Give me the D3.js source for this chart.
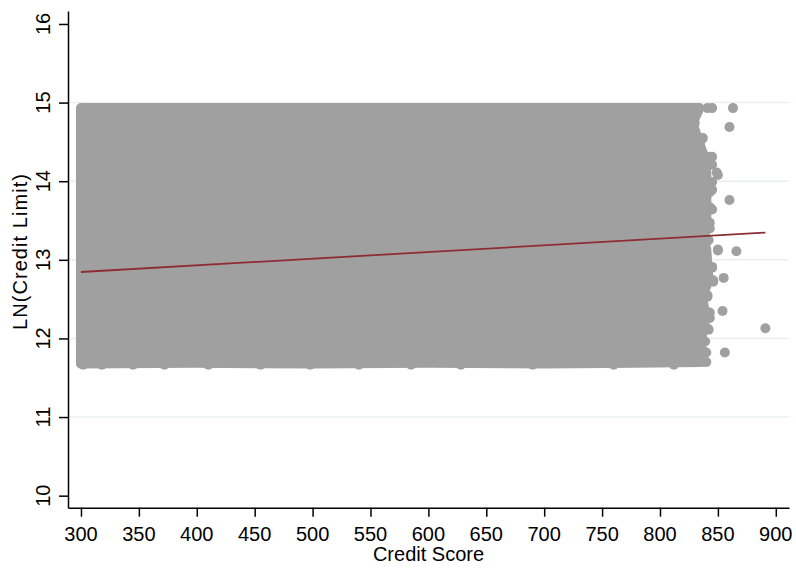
<!DOCTYPE html>
<html>
<head>
<meta charset="utf-8">
<script src="https://cdn.jsdelivr.net/npm/d3@7"></script>
<style>
  html, body { margin: 0; padding: 0; background: #ffffff; }
  svg { display: block; }
  text { font-family: "Liberation Sans", Arial, sans-serif; fill: #000; }
</style>
</head>
<body>
<svg id="chart" width="796" height="569"></svg>
<script>
// ---- data ----
const xTicks = [300, 350, 400, 450, 500, 550, 600, 650, 700, 750, 800, 850, 900];
const yTicks = [10, 11, 12, 13, 14, 15, 16];
const gridValues = [11, 12, 13, 14, 15];

// boundary of the dense (fully overlapping) cloud of observations: credit score / ln(limit)
const cloudScore = [300, 834, 828, 833, 838, 840, 840, 840, 840, 838, 840, 841, 842, 836, 839, 837, 834, 834,
                    780, 700, 600, 500, 400, 300];
const cloudLnLimit = [14.93, 14.93, 14.74, 14.52, 14.31, 14.11, 13.89, 13.67, 13.47, 13.25, 13.13, 12.91, 12.74, 12.53, 12.33, 12.11, 11.85, 11.70,
                      11.69, 11.68, 11.69, 11.68, 11.69, 11.68];

// individual observations on the edge / fringe of the cloud
const outScore = [841, 830, 836, 842, 849, 845, 843, 843, 842, 850, 845, 846, 841, 843, 842, 837, 837,
                  845, 863, 860, 837, 845, 845, 850, 845, 843, 860, 845, 843, 850, 866, 845, 855, 846, 841, 854, 843, 891, 841, 839, 856, 840, 840,
                  302, 318, 345, 372, 410, 455, 498, 540, 585, 628, 690, 760, 812];
const outLnLimit = [14.93, 14.74, 14.53, 14.31, 14.11, 13.89, 13.67, 13.47, 13.25, 13.13, 12.91, 12.74, 12.53, 12.33, 12.11, 11.85, 11.70,
                    14.93, 14.93, 14.69, 14.55, 14.31, 14.21, 14.08, 13.99, 13.86, 13.76, 13.64, 13.40, 13.12, 13.11, 12.90, 12.77, 12.72, 12.55, 12.35, 12.26, 12.13, 12.13, 11.96, 11.82, 11.82, 11.70,
                    11.665, 11.665, 11.665, 11.665, 11.665, 11.665, 11.665, 11.665, 11.665, 11.665, 11.665, 11.665, 11.665];

// fitted line
const fitScore = [300, 891];
const fitLnLimit = [12.845, 13.346];

// ---- chart ----
const svg = d3.select("#chart");
const x = d3.scaleLinear().domain([288.8, 911.4]).range([68, 789]);
const y = d3.scaleLinear().domain([9.847, 16.165]).range([507.7, 11]);
const grey = "#a0a0a0";

// gridlines
svg.append("g").selectAll("line").data(gridValues).join("line")
  .attr("x1", x.range()[0]).attr("x2", x.range()[1])
  .attr("y1", d => y(d)).attr("y2", d => y(d))
  .attr("stroke", "#e8eff1").attr("stroke-width", 1.5);

// dense cloud
const cloud = cloudScore.map((s, i) => [s, cloudLnLimit[i]]);
svg.append("path")
  .datum(cloud)
  .attr("d", d3.line().x(d => x(d[0])).y(d => y(d[1])).curve(d3.curveLinearClosed))
  .attr("fill", grey).attr("stroke", grey).attr("stroke-width", 10).attr("stroke-linejoin", "round");

// fringe points
const pts = outScore.map((s, i) => [s, outLnLimit[i]]);
svg.append("g").selectAll("circle").data(pts).join("circle")
  .attr("cx", d => x(d[0])).attr("cy", d => y(d[1])).attr("r", 5).attr("fill", grey);

// fitted line
const fit = fitScore.map((s, i) => [s, fitLnLimit[i]]);
svg.append("path").datum(fit)
  .attr("d", d3.line().x(d => x(d[0])).y(d => y(d[1])))
  .attr("fill", "none").attr("stroke", "#8e2c36").attr("stroke-width", 1.8);

// axes
const yAxis = svg.append("g").attr("transform", `translate(${x.range()[0]},0)`)
  .call(d3.axisLeft(y).tickValues(yTicks).tickSize(9).tickSizeOuter(0).tickFormat(""));
const xAxis = svg.append("g").attr("transform", `translate(0,${y.range()[0]})`)
  .call(d3.axisBottom(x).tickValues(xTicks).tickSize(9).tickSizeOuter(0).tickFormat(""));
[yAxis, xAxis].forEach(g => {
  g.selectAll("path, line").attr("stroke", "#000").attr("stroke-width", 1.5);
});

// tick labels
svg.append("g").selectAll("text").data(yTicks).join("text")
  .attr("transform", d => `translate(50,${y(d)}) rotate(-90)`)
  .attr("text-anchor", "middle").attr("font-size", 20).text(d => d);
svg.append("g").selectAll("text").data(xTicks).join("text")
  .attr("x", d => x(d)).attr("y", 541)
  .attr("text-anchor", "middle").attr("font-size", 20).text(d => d);

// axis titles
svg.append("text").attr("x", (x.range()[0] + x.range()[1]) / 2).attr("y", 561)
  .attr("text-anchor", "middle").attr("font-size", 20).text("Credit Score");
svg.append("text")
  .attr("transform", `translate(27,252) rotate(-90)`)
  .attr("text-anchor", "middle").attr("font-size", 20)
  .attr("textLength", 156).attr("lengthAdjust", "spacing").text("LN(Credit Limit)");
</script>
</body>
</html>
